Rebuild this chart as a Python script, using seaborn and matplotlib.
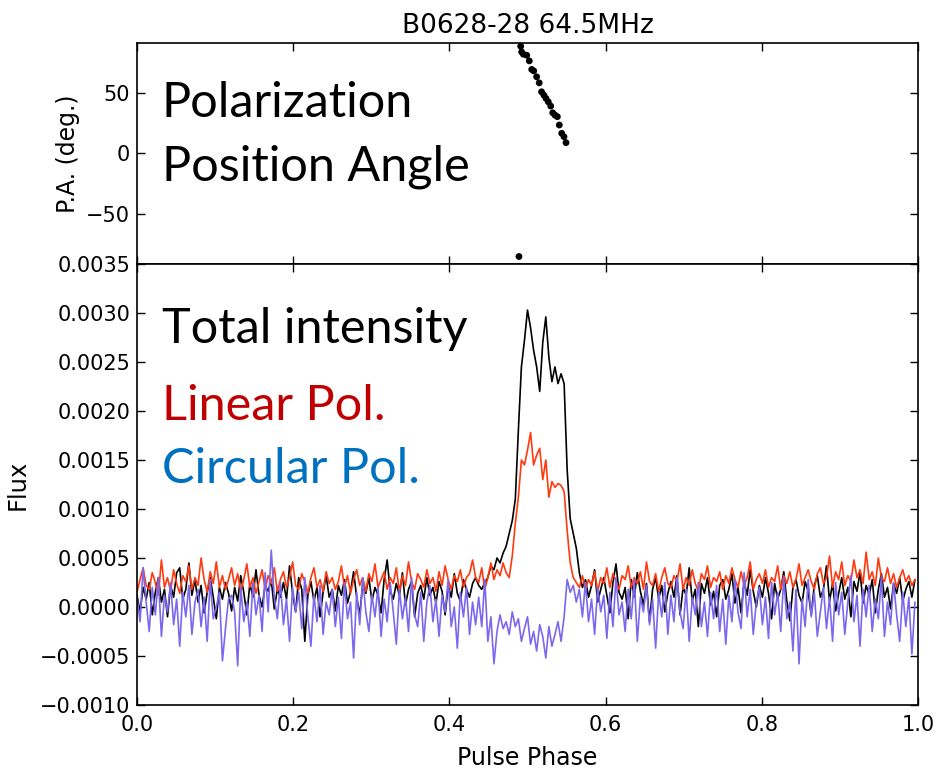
import numpy as np
import pandas as pd
import matplotlib
matplotlib.use("Agg")
import matplotlib.pyplot as plt
from matplotlib.ticker import FuncFormatter
import seaborn as sns

# flux profiles, in units of 1e-5 (256 phase bins)
UNIT = 1e-5

total_I = [
    12, -5, 20, 8, 25, -8, 15, 30, 5, 18, -10, 22, 10, 35, 40, 8,
    18, 45, 12, 28, 5, 22, -6, 15, 30, 10, -12, 20, 8, 25, 14, -4,
    20, 6, 32, 15, -8, 24, 10, 38, 12, 0, 22, 16, 28, -2, 18, 10,
    25, 8, 42, 14, -5, 30, 18, -35, 12, 26, 6, 20, -10, 15, 32, 10,
    18, -4, 22, 12, 28, 4, 16, 36, 10, -8, 24, 14, 30, 6, 20, 12,
    -6, 28, 48, 16, 8, 24, 12, 35, 2, 18, 26, -10, 14, 22, 8, 30,
    12, 20, 4, 26, 16, -8, 22, 10, 34, 14, 6, 28, 18, 10, 24, 30,
    22, 18, 25, 30, 42, 38, 50, 45, 55, 62, 75, 88, 110, 180, 245, 272,
    303, 285, 262, 245, 220, 270, 296, 255, 230, 245, 228, 238, 228, 140, 90, 75,
    60, 35, 20, 28, 10, 22, 38, 5, 18, 30, 12, -6, 25, 44, 15, 8,
    20, -12, 28, 10, 35, 16, 2, 24, -15, 18, 30, 8, 22, -5, 14, 26,
    10, 32, -8, 20, 12, 40, 6, 18, -20, 24, 14, 30, 2, 16, -10, 22,
    28, 8, 18, 34, 4, 20, -6, 26, 12, 38, 16, 0, 22, 10, 30, 14,
    -12, 24, 8, 18, 36, 6, -14, 20, 28, 12, 4, 26, 16, -8, 22, 32,
    10, 18, 42, 6, 24, -4, 14, 30, 8, 20, -10, 26, 16, 36, 4, 22,
    12, 28, -6, 18, 34, 10, 20, -2, 24, 14, 30, 6, 18, 26, 10, 28,
]

linear_L = [
    15, 28, 40, 22, 18, 35, 25, 12, 48, 20, 30, 16, 38, 24, 14, 32,
    26, 42, 18, 30, 22, 50, 28, 15, 36, 24, 46, 20, 32, 18, 28, 40,
    22, 34, 16, 28, 44, 20, 30, 14, 26, 38, 18, 32, 24, 40, 16, 28,
    36, 20, 30, 46, 22, 18, 34, 26, 14, 30, 40, 20, 28, 16, 36, 24,
    30, 18, 26, 42, 20, 32, 14, 28, 38, 22, 30, 16, 34, 26, 44, 20,
    28, 36, 18, 30, 24, 40, 16, 32, 22, 46, 26, 18, 34, 28, 20, 38,
    24, 30, 16, 36, 22, 42, 28, 18, 32, 26, 38, 20, 30, 34, 48, 30,
    25, 40, 18, 30, 45, 28, 38, 32, 45, 35, 30, 52, 85, 112, 150, 145,
    160, 178, 145, 155, 162, 130, 150, 112, 128, 122, 126, 124, 118, 78, 45, 30,
    25, 20, 32, 18, 28, 22, 36, 16, 30, 24, 40, 20, 34, 26, 18, 32,
    28, 42, 20, 30, 24, 36, 18, 46, 26, 22, 34, 16, 30, 40, 24, 20,
    32, 26, 44, 18, 30, 22, 38, 24, 16, 34, 28, 42, 20, 30, 26, 36,
    18, 32, 24, 40, 28, 20, 36, 22, 30, 46, 18, 28, 34, 24, 38, 20,
    30, 26, 42, 18, 32, 24, 36, 20, 28, 44, 22, 30, 38, 26, 18, 34,
    40, 24, 30, 52, 20, 36, 28, 46, 22, 32, 26, 48, 30, 38, 24, 56,
    28, 36, 22, 50, 30, 26, 40, 24, 34, 20, 30, 38, 26, 32, 22, 28,
]

circular_V = [
    10, -15, 40, 5, -25, 20, -8, 30, -30, 12, -5, 25, -18, 8, -40, 15,
    -10, 22, -28, 5, 18, -20, 10, -35, 28, -12, 0, 15, -55, -22, 8, 12,
    -5, -60, 20, -15, 5, -30, 25, -8, 12, -25, 35, -5, 58, 10, -12, 25,
    -18, 8, -35, 20, -5, 15, -22, 30, -10, -40, 12, -15, 22, -28, 5, -8,
    18, -20, 10, -32, 25, -12, 5, -52, 15, -18, 30, -5, -25, 12, -10, 20,
    -30, 8, -15, 25, -5, -38, 18, -12, 10, -25, 30, -8, -20, 15, -35, 5,
    22, -15, 8, -30, 12, -5, 28, -20, 0, -42, 15, -10, 20, -28, 5, -18,
    10, -20, 28, -35, -10, -58, -25, -8, -22, -15, -28, -5, -20, -12, -35, -22,
    -10, -38, -25, -45, -18, -30, -52, -20, -40, -28, -15, -35, -10, 28, 15, 22,
    5, 18, -10, 25, -15, 8, -28, 20, -5, 12, -32, 15, -20, 30, -8, 5,
    -25, 18, -12, 28, -35, 10, -5, 22, -18, 8, -42, 15, -10, 25, -28, 12,
    -15, 30, -5, -22, 18, -35, 10, -8, 25, -20, 5, -30, 15, -12, 22, -25,
    8, -38, 12, -15, 28, -5, -22, 35, -10, 18, -28, 5, 20, -18, 10, -32,
    25, -8, 15, -25, 30, -12, 5, -45, 18, -58, 8, -20, 28, -10, 15, -30,
    -5, 20, -22, 10, -35, 25, -8, 15, -28, 5, 32, -15, 12, -40, 18, -10,
    22, -25, 8, -12, 30, -30, 5, -18, 25, -8, -35, 15, -20, 10, -48, 5,
]

# polarization position angle points
pa_phase = [0.4891, 0.4913, 0.4925, 0.4947, 0.4990, 0.5023, 0.5054, 0.5080,
            0.5117, 0.5150, 0.5180, 0.5210, 0.5237, 0.5266, 0.5297, 0.5323,
            0.5352, 0.5382, 0.5407, 0.5438, 0.5467, 0.5493]
pa_deg = [-85.3, 88.8, 84.1, 82.2, 81.4, 76.7, 69.6, 68.4,
          63.5, 58.5, 51.1, 48.3, 45.6, 42.8, 39.3, 33.7,
          31.8, 30.5, 23.6, 16.7, 13.9, 9.0]

pa_yticks = [-50, 0, 50]
flux_yticks = [-0.0010, -0.0005, 0.0, 0.0005, 0.0010, 0.0015,
               0.0020, 0.0025, 0.0030, 0.0035]
phase_ticks = [0.0, 0.2, 0.4, 0.6, 0.8, 1.0]

assert len(total_I) == len(linear_L) == len(circular_V) == 256

n_bins = len(total_I)
prof = pd.DataFrame({
    "phase": np.arange(n_bins) / n_bins,
    "I": np.array(total_I) * UNIT,
    "L": np.array(linear_L) * UNIT,
    "V": np.array(circular_V) * UNIT,
})
pa = pd.DataFrame({"phase": pa_phase, "pa": pa_deg})

sns.set_style("ticks")
plt.rcParams["font.family"] = ["DejaVu Sans"]
plt.rcParams["text.color"] = "black"
plt.rcParams["axes.labelcolor"] = "black"

fig = plt.figure(figsize=(9.38, 7.71), dpi=100)
ax_pa = fig.add_axes([0.14606, 0.65759, 0.83262, 0.28664])
ax_fl = fig.add_axes([0.14606, 0.08560, 0.83262, 0.57198])

# top: position angle
sns.scatterplot(data=pa, x="phase", y="pa", ax=ax_pa, color="black",
                s=24, edgecolor="none", legend=False)
ax_pa.set_xlim(0, 1)
ax_pa.set_ylim(-91.5, 91.5)
ax_pa.set_yticks(pa_yticks)
ax_pa.set_xticks(phase_ticks)
ax_pa.set_xticklabels([])
ax_pa.set_xlabel("")
ax_pa.set_ylabel("P.A. (deg.)", fontsize=17)
ax_pa.yaxis.set_label_coords(-0.073, 0.5)
ax_pa.set_title("B0628-28 64.5MHz", fontsize=19, pad=7, color="black")

# bottom: flux profiles
sns.lineplot(data=prof, x="phase", y="I", ax=ax_fl, color="black", lw=1.2,
             estimator=None)
sns.lineplot(data=prof, x="phase", y="L", ax=ax_fl, color="#ff3a10", lw=1.2,
             estimator=None)
sns.lineplot(data=prof, x="phase", y="V", ax=ax_fl, color="#7b68ee", lw=1.2,
             estimator=None)
ax_fl.set_xlim(0, 1)
ax_fl.set_ylim(-0.0010, 0.0035)
ax_fl.set_yticks(flux_yticks)
ax_fl.set_xticks(phase_ticks)
ax_fl.yaxis.set_major_formatter(FuncFormatter(lambda v, p: f"{v:.4f}".replace("-", "\u2212")))
ax_fl.xaxis.set_major_formatter(FuncFormatter(lambda v, p: f"{v:.1f}"))
ax_fl.set_xlabel("Pulse Phase", fontsize=17, labelpad=8)
ax_fl.set_ylabel("Flux", fontsize=17.5)
ax_fl.yaxis.set_label_coords(-0.137, 0.5)

for ax in (ax_pa, ax_fl):
    ax.tick_params(direction="in", length=6, width=1, top=True, right=True,
                   labelsize=15, colors="black")
    ax.tick_params(axis="x", pad=7)
    ax.tick_params(axis="y", pad=5)
    for sp in ax.spines.values():
        sp.set_linewidth(1.2)
        sp.set_color("black")

# slide annotations
big = dict(fontsize=35, family=["Lato", "DejaVu Sans"], va="baseline", ha="left")
ax_pa.text(0.032, 0.665, "Polarization", transform=ax_pa.transAxes, color="black", **big)
ax_pa.text(0.032, 0.380, "Position Angle", transform=ax_pa.transAxes, color="black", **big)
ax_fl.text(0.032, 0.821, "Total intensity", transform=ax_fl.transAxes, color="black", **big)
ax_fl.text(0.032, 0.646, "Linear Pol.", transform=ax_fl.transAxes, color="#c00000", **big)
ax_fl.text(0.032, 0.503, "Circular Pol.", transform=ax_fl.transAxes, color="#0070c0", **big)

fig.savefig("out.png", dpi=100)
